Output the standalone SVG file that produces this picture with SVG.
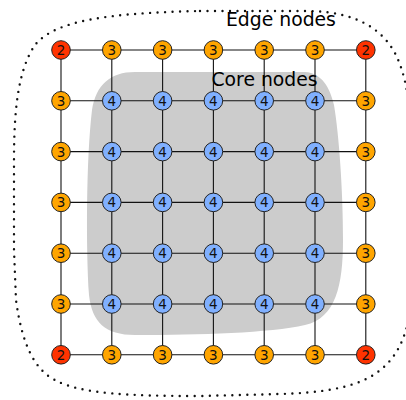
<svg xmlns="http://www.w3.org/2000/svg" width="406" height="400" viewBox="0 0 406 400">
<style>
.outline{fill:none;stroke:#111;stroke-width:2.4;stroke-dasharray:0 7.5;stroke-linecap:round}
.blob{fill:#cccccc;stroke:none}
.edges line{stroke:#111;stroke-width:1.1}
circle{stroke:#222;stroke-width:1}
.r circle{fill:#ff3300}
.o circle{fill:#ffa500}
.b circle{fill:#80b0ff}
.n text{font-family:"DejaVu Sans",sans-serif;font-size:13.5px;text-anchor:middle;fill:#111}
.lbl{font-family:"DejaVu Sans",sans-serif;font-size:18.8px;fill:#000}
</style>
<path class="outline" d="M 200,11 L 310,11 C 355,12 382,28 396,55 C 410,85 412,120 412,200 L 412,290 C 410,330 400,360 370,377 C 350,388 320,393 280,394 L 200,396 C 130,396 80,394 55,380 C 35,370 22,345 16,300 L 14,250 L 14,160 C 14,110 18,70 35,45 C 55,20 110,13 200,11 Z"/>
<path class="blob" d="M 135,72 L 305,72 C 322,73 330,88 334,105 C 339,135 343,190 343,240 C 343,285 336,318 305,325 C 270,333 200,335 135,335 C 105,335 92,322 89,295 C 86,250 86,160 92,110 C 96,85 110,72 135,72 Z"/>
<g class="edges">
<line x1="61" y1="50" x2="365.8" y2="50"/>
<line x1="61" y1="100.8" x2="365.8" y2="100.8"/>
<line x1="61" y1="151.6" x2="365.8" y2="151.6"/>
<line x1="61" y1="202.4" x2="365.8" y2="202.4"/>
<line x1="61" y1="253.2" x2="365.8" y2="253.2"/>
<line x1="61" y1="304" x2="365.8" y2="304"/>
<line x1="61" y1="354.8" x2="365.8" y2="354.8"/>
<line x1="61" y1="50" x2="61" y2="354.8"/>
<line x1="111.8" y1="50" x2="111.8" y2="354.8"/>
<line x1="162.6" y1="50" x2="162.6" y2="354.8"/>
<line x1="213.4" y1="50" x2="213.4" y2="354.8"/>
<line x1="264.2" y1="50" x2="264.2" y2="354.8"/>
<line x1="315" y1="50" x2="315" y2="354.8"/>
<line x1="365.8" y1="50" x2="365.8" y2="354.8"/>
</g>
<g id="n00" class="n r"><circle cx="61" cy="50" r="9.3"/><text x="61" y="54.9">2</text></g>
<g id="n01" class="n o"><circle cx="111.8" cy="50" r="9.3"/><text x="111.8" y="54.9">3</text></g>
<g id="n02" class="n o"><circle cx="162.6" cy="50" r="9.3"/><text x="162.6" y="54.9">3</text></g>
<g id="n03" class="n o"><circle cx="213.4" cy="50" r="9.3"/><text x="213.4" y="54.9">3</text></g>
<g id="n04" class="n o"><circle cx="264.2" cy="50" r="9.3"/><text x="264.2" y="54.9">3</text></g>
<g id="n05" class="n o"><circle cx="315" cy="50" r="9.3"/><text x="315" y="54.9">3</text></g>
<g id="n06" class="n r"><circle cx="365.8" cy="50" r="9.3"/><text x="365.8" y="54.9">2</text></g>
<g id="n10" class="n o"><circle cx="61" cy="100.8" r="9.3"/><text x="61" y="105.7">3</text></g>
<g id="n11" class="n b"><circle cx="111.8" cy="100.8" r="9.3"/><text x="111.8" y="105.7">4</text></g>
<g id="n12" class="n b"><circle cx="162.6" cy="100.8" r="9.3"/><text x="162.6" y="105.7">4</text></g>
<g id="n13" class="n b"><circle cx="213.4" cy="100.8" r="9.3"/><text x="213.4" y="105.7">4</text></g>
<g id="n14" class="n b"><circle cx="264.2" cy="100.8" r="9.3"/><text x="264.2" y="105.7">4</text></g>
<g id="n15" class="n b"><circle cx="315" cy="100.8" r="9.3"/><text x="315" y="105.7">4</text></g>
<g id="n16" class="n o"><circle cx="365.8" cy="100.8" r="9.3"/><text x="365.8" y="105.7">3</text></g>
<g id="n20" class="n o"><circle cx="61" cy="151.6" r="9.3"/><text x="61" y="156.5">3</text></g>
<g id="n21" class="n b"><circle cx="111.8" cy="151.6" r="9.3"/><text x="111.8" y="156.5">4</text></g>
<g id="n22" class="n b"><circle cx="162.6" cy="151.6" r="9.3"/><text x="162.6" y="156.5">4</text></g>
<g id="n23" class="n b"><circle cx="213.4" cy="151.6" r="9.3"/><text x="213.4" y="156.5">4</text></g>
<g id="n24" class="n b"><circle cx="264.2" cy="151.6" r="9.3"/><text x="264.2" y="156.5">4</text></g>
<g id="n25" class="n b"><circle cx="315" cy="151.6" r="9.3"/><text x="315" y="156.5">4</text></g>
<g id="n26" class="n o"><circle cx="365.8" cy="151.6" r="9.3"/><text x="365.8" y="156.5">3</text></g>
<g id="n30" class="n o"><circle cx="61" cy="202.4" r="9.3"/><text x="61" y="207.3">3</text></g>
<g id="n31" class="n b"><circle cx="111.8" cy="202.4" r="9.3"/><text x="111.8" y="207.3">4</text></g>
<g id="n32" class="n b"><circle cx="162.6" cy="202.4" r="9.3"/><text x="162.6" y="207.3">4</text></g>
<g id="n33" class="n b"><circle cx="213.4" cy="202.4" r="9.3"/><text x="213.4" y="207.3">4</text></g>
<g id="n34" class="n b"><circle cx="264.2" cy="202.4" r="9.3"/><text x="264.2" y="207.3">4</text></g>
<g id="n35" class="n b"><circle cx="315" cy="202.4" r="9.3"/><text x="315" y="207.3">4</text></g>
<g id="n36" class="n o"><circle cx="365.8" cy="202.4" r="9.3"/><text x="365.8" y="207.3">3</text></g>
<g id="n40" class="n o"><circle cx="61" cy="253.2" r="9.3"/><text x="61" y="258.1">3</text></g>
<g id="n41" class="n b"><circle cx="111.8" cy="253.2" r="9.3"/><text x="111.8" y="258.1">4</text></g>
<g id="n42" class="n b"><circle cx="162.6" cy="253.2" r="9.3"/><text x="162.6" y="258.1">4</text></g>
<g id="n43" class="n b"><circle cx="213.4" cy="253.2" r="9.3"/><text x="213.4" y="258.1">4</text></g>
<g id="n44" class="n b"><circle cx="264.2" cy="253.2" r="9.3"/><text x="264.2" y="258.1">4</text></g>
<g id="n45" class="n b"><circle cx="315" cy="253.2" r="9.3"/><text x="315" y="258.1">4</text></g>
<g id="n46" class="n o"><circle cx="365.8" cy="253.2" r="9.3"/><text x="365.8" y="258.1">3</text></g>
<g id="n50" class="n o"><circle cx="61" cy="304" r="9.3"/><text x="61" y="308.9">3</text></g>
<g id="n51" class="n b"><circle cx="111.8" cy="304" r="9.3"/><text x="111.8" y="308.9">4</text></g>
<g id="n52" class="n b"><circle cx="162.6" cy="304" r="9.3"/><text x="162.6" y="308.9">4</text></g>
<g id="n53" class="n b"><circle cx="213.4" cy="304" r="9.3"/><text x="213.4" y="308.9">4</text></g>
<g id="n54" class="n b"><circle cx="264.2" cy="304" r="9.3"/><text x="264.2" y="308.9">4</text></g>
<g id="n55" class="n b"><circle cx="315" cy="304" r="9.3"/><text x="315" y="308.9">4</text></g>
<g id="n56" class="n o"><circle cx="365.8" cy="304" r="9.3"/><text x="365.8" y="308.9">3</text></g>
<g id="n60" class="n r"><circle cx="61" cy="354.8" r="9.3"/><text x="61" y="359.7">2</text></g>
<g id="n61" class="n o"><circle cx="111.8" cy="354.8" r="9.3"/><text x="111.8" y="359.7">3</text></g>
<g id="n62" class="n o"><circle cx="162.6" cy="354.8" r="9.3"/><text x="162.6" y="359.7">3</text></g>
<g id="n63" class="n o"><circle cx="213.4" cy="354.8" r="9.3"/><text x="213.4" y="359.7">3</text></g>
<g id="n64" class="n o"><circle cx="264.2" cy="354.8" r="9.3"/><text x="264.2" y="359.7">3</text></g>
<g id="n65" class="n o"><circle cx="315" cy="354.8" r="9.3"/><text x="315" y="359.7">3</text></g>
<g id="n66" class="n r"><circle cx="365.8" cy="354.8" r="9.3"/><text x="365.8" y="359.7">2</text></g>
<text class="lbl" x="226" y="26">Edge nodes</text>
<text class="lbl" x="211.5" y="86">Core nodes</text>
</svg>
